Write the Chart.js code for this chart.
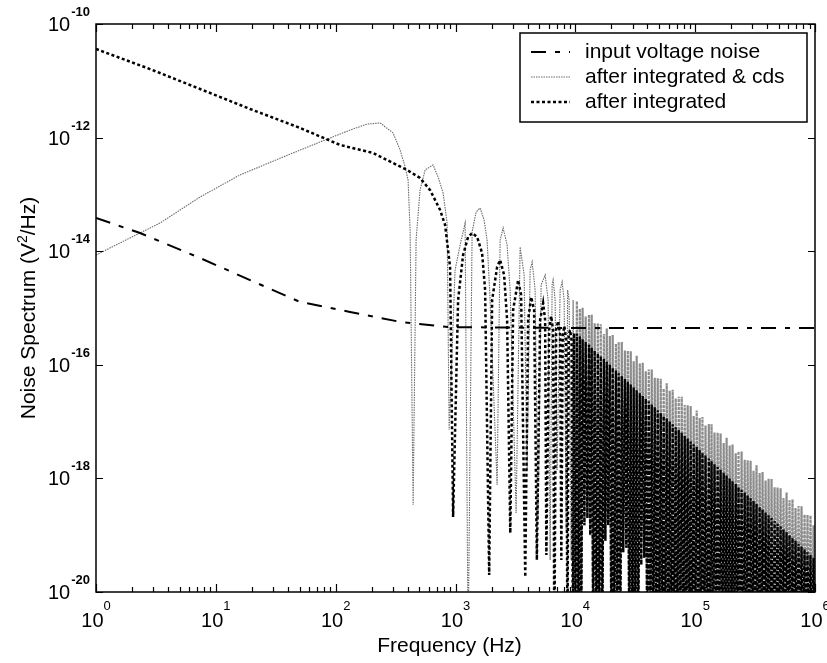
<!DOCTYPE html>
<html>
<head>
<meta charset="utf-8">
<script src="https://cdn.jsdelivr.net/npm/chart.js@4/dist/chart.umd.min.js"></script>
<style>
  body { margin: 0; background: #fff; }
  #wrap { width: 827px; height: 663px; }
</style>
</head>
<body>
<div id="wrap"><canvas id="noiseChart" width="827" height="663"></canvas></div>
<script>
// values (log-log, Hz vs V^2/Hz)
const xTickExps = [0, 1, 2, 3, 4, 5, 6];
const yTickExps = [-10, -12, -14, -16, -18, -20];
const seriesLabels = ["input voltage noise", "after integrated & cds", "after integrated"];
const Z = 1e-21; // nulls that drop below the axis

const inputFreq = [1, 2.33, 7.38, 19.3, 50.4, 132, 345, 901, 1.0e4, 1.0e6];
const inputNoise = [3.85e-14, 2.09e-14, 7.6e-15, 3.1e-15, 1.28e-15, 8.5e-16, 5.7e-16, 4.6e-16, 4.45e-16, 4.45e-16];

// after integrated & cds, below 10 kHz
const cdsFreqLow = [1, 1.92, 3.42, 7.38, 15.9, 36.4, 74.1, 132, 183, 235,
  301, 345, 380, 402, 418, 443, 469, 506, 558, 650,
  716, 788, 851, 885, 992, 1093, 1203, 1274, 1376, 1486,
  1604, 1733, 1835, 1945, 2225, 2357, 2497, 2696, 2857, 3205,
  3462, 3738, 3960, 4195, 4360, 4618, 4893, 5183, 5597, 5930,
  6161, 6402, 6526, 6782, 7048, 7467, 7760, 8064, 8380, 8626,
  8877, 9226, 9586];
const cdsLow = [8.57e-15, 1.71e-14, 3.13e-14, 8.99e-14, 2.20e-13, 4.55e-13, 8.37e-13, 1.36e-12, 1.73e-12, 1.81e-12,
  1.21e-12, 6.05e-13, 3.04e-13, 1.79e-13, 2.36e-14, 3.40e-19, 1.57e-14, 1.19e-13, 2.69e-13, 3.30e-13,
  2.02e-13, 1.06e-13, 3.13e-14, 7.11e-18, 4.67e-15, 1.29e-14, 3.13e-14, Z, 2.18e-14, 4.90e-14,
  5.76e-14, 3.54e-14, 1.57e-14, 1.38e-15, 7.66e-19, 1.57e-14, 2.56e-14, 1.29e-14, 2.07e-15, 2.46e-19,
  1.19e-14, 3.81e-15, 1.41e-18, 4.67e-15, 6.46e-15, 2.07e-15, 1.85e-19, 2.54e-15, 3.81e-15, 1.38e-15,
  3.66e-20, 2.54e-15, 3.11e-15, 1.38e-15, 1.41e-18, 2.07e-15, 2.87e-15, 1.38e-15, 1.24e-19, 2.07e-15,
  1.38e-15, 3.66e-20, 1.38e-15];

// after integrated, below 10 kHz
const integFreqLow = [1, 2.82, 7.38, 19.3, 50.4, 109, 205, 394, 506, 614,
  744, 819, 901, 955, 1051, 1157, 1274, 1376, 1515, 1667,
  1767, 1910, 2021, 2225, 2357, 2545, 2696, 2865, 3026, 3332,
  3528, 3820, 4036, 4277, 4530, 4775, 5084, 5385, 5597, 5730,
  6042, 6281, 6526, 6685, 6912, 7185, 7467, 7640, 7850, 8100,
  8380, 8595, 8800, 9050, 9300, 9550, 9770];
const integLow = [3.63e-11, 1.61e-11, 7.18e-12, 3.19e-12, 1.48e-12, 7.41e-13, 5.36e-13, 2.69e-13, 1.95e-13, 1.19e-13,
  5.31e-14, 2.89e-14, 5.27e-15, 2.09e-19, 1.38e-15, 8.57e-15, 1.78e-14, 2.09e-14, 1.78e-14, 9.28e-15,
  2.07e-15, 1.99e-20, 1.38e-15, 5.27e-15, 7.0e-15, 3.81e-15, 6.15e-16, 1.09e-19, 9.23e-16, 3.11e-15,
  1.69e-15, 1.84e-20, 6.15e-16, 1.56e-15, 9.23e-16, 3.66e-20, 6.15e-16, 1.22e-15, 6.15e-16, 4.48e-20,
  4.10e-16, 7.23e-16, 4.10e-16, Z, 4.10e-16, 5.90e-16, 3.35e-16, 3.66e-20, 3.35e-16, 4.82e-16,
  2.73e-16, Z, 3.35e-16, 4.10e-16, 2.73e-16, Z, 3.6e-16];

// dense ripple above 10 kHz: null, peak, null, peak ...
const denseFreq = [
  1.00e4, 1.03e4, 1.06e4, 1.09e4, 1.12e4, 1.15e4, 1.19e4, 1.22e4, 1.26e4, 1.30e4,
  1.33e4, 1.37e4, 1.41e4, 1.45e4, 1.50e4, 1.54e4, 1.58e4, 1.63e4, 1.68e4, 1.73e4,
  1.78e4, 1.83e4, 1.88e4, 1.94e4, 2.00e4, 2.05e4, 2.11e4, 2.18e4, 2.24e4, 2.30e4,
  2.37e4, 2.44e4, 2.51e4, 2.59e4, 2.66e4, 2.74e4, 2.82e4, 2.90e4, 2.99e4, 3.07e4,
  3.16e4, 3.25e4, 3.35e4, 3.45e4, 3.55e4, 3.65e4, 3.76e4, 3.87e4, 3.98e4, 4.10e4,
  4.22e4, 4.34e4, 4.47e4, 4.60e4, 4.73e4, 4.87e4, 5.01e4, 5.16e4, 5.31e4, 5.46e4,
  5.62e4, 5.79e4, 5.96e4, 6.13e4, 6.31e4, 6.49e4, 6.68e4, 6.88e4, 7.08e4, 7.29e4,
  7.50e4, 7.72e4, 7.94e4, 8.18e4, 8.41e4, 8.66e4, 8.91e4, 9.17e4, 9.44e4, 9.72e4,
  1.00e5, 1.03e5, 1.06e5, 1.09e5, 1.12e5, 1.15e5, 1.19e5, 1.22e5, 1.26e5, 1.30e5,
  1.33e5, 1.37e5, 1.41e5, 1.45e5, 1.50e5, 1.54e5, 1.58e5, 1.63e5, 1.68e5, 1.73e5,
  1.78e5, 1.83e5, 1.88e5, 1.94e5, 2.00e5, 2.05e5, 2.11e5, 2.18e5, 2.24e5, 2.30e5,
  2.37e5, 2.44e5, 2.51e5, 2.59e5, 2.66e5, 2.74e5, 2.82e5, 2.90e5, 2.99e5, 3.07e5,
  3.16e5, 3.25e5, 3.35e5, 3.45e5, 3.55e5, 3.65e5, 3.76e5, 3.87e5, 3.98e5, 4.10e5,
  4.22e5, 4.34e5, 4.47e5, 4.60e5, 4.73e5, 4.87e5, 5.01e5, 5.16e5, 5.31e5, 5.46e5,
  5.62e5, 5.79e5, 5.96e5, 6.13e5, 6.31e5, 6.49e5, 6.68e5, 6.88e5, 7.08e5, 7.29e5,
  7.50e5, 7.72e5, 7.94e5, 8.18e5, 8.41e5, 8.66e5, 8.91e5, 9.17e5, 9.44e5, 9.72e5,
  1.00e6];

const integDense = [
  Z, 3.56e-16, Z, 3.17e-16, Z, 2.83e-16, 1.5e-19, 2.52e-16, 2e-19, 2.25e-16,
  1e-19, 2.00e-16, Z, 1.78e-16, Z, 1.59e-16, Z, 1.42e-16, Z, 1.26e-16,
  8e-20, 1.13e-16, 1.5e-19, 1.00e-16, Z, 8.94e-17, Z, 7.97e-17, Z, 7.10e-17,
  Z, 6.33e-17, 5e-20, 5.64e-17, 6e-20, 5.03e-17, Z, 4.48e-17, Z, 3.99e-17,
  Z, 3.56e-17, Z, 3.17e-17, 3e-20, 2.83e-17, 4e-20, 2.52e-17, Z, 2.25e-17,
  Z, 2.00e-17, Z, 1.78e-17, Z, 1.59e-17, Z, 1.42e-17, Z, 1.26e-17,
  Z, 1.13e-17, Z, 1.00e-17, Z, 8.94e-18, Z, 7.97e-18, Z, 7.10e-18,
  Z, 6.33e-18, Z, 5.64e-18, Z, 5.03e-18, Z, 4.48e-18, Z, 3.99e-18,
  Z, 3.56e-18, Z, 3.17e-18, Z, 2.83e-18, Z, 2.52e-18, Z, 2.25e-18,
  Z, 2.00e-18, Z, 1.78e-18, Z, 1.59e-18, Z, 1.42e-18, Z, 1.26e-18,
  Z, 1.13e-18, Z, 1.00e-18, Z, 8.94e-19, Z, 7.97e-19, Z, 7.10e-19,
  Z, 6.33e-19, Z, 5.64e-19, Z, 5.03e-19, Z, 4.48e-19, Z, 3.99e-19,
  Z, 3.56e-19, Z, 3.17e-19, Z, 2.83e-19, Z, 2.52e-19, Z, 2.25e-19,
  Z, 2.00e-19, Z, 1.78e-19, Z, 1.59e-19, Z, 1.42e-19, Z, 1.26e-19,
  Z, 1.13e-19, Z, 1.00e-19, Z, 8.94e-20, Z, 7.97e-20, Z, 7.10e-20,
  Z, 6.33e-20, Z, 5.64e-20, Z, 5.03e-20, Z, 4.48e-20, Z, 3.99e-20,
  Z];

const cdsDense = [
  Z, 1.32e-15, Z, 9.7e-16, Z, 1.01e-15, 1.5e-19, 7.1e-16, 2e-19, 7.6e-16,
  1e-19, 7.6e-16, Z, 5.4e-16, Z, 5.4e-16, Z, 5.2e-16, Z, 3.5e-16,
  8e-20, 4.37e-16, 1.5e-19, 3.20e-16, Z, 3.33e-16, Z, 2.35e-16, Z, 2.52e-16,
  Z, 2.51e-16, 5e-20, 1.79e-16, 6e-20, 1.77e-16, Z, 1.73e-16, Z, 1.16e-16,
  Z, 1.44e-16, Z, 1.06e-16, 3e-20, 1.09e-16, 4e-20, 7.7e-17, Z, 8.3e-17,
  Z, 8.3e-17, Z, 5.9e-17, Z, 5.8e-17, Z, 5.7e-17, Z, 3.8e-17,
  Z, 4.75e-17, Z, 3.49e-17, Z, 3.62e-17, Z, 2.56e-17, Z, 2.75e-17,
  Z, 2.73e-17, Z, 1.95e-17, Z, 1.93e-17, Z, 1.88e-17, Z, 1.26e-17,
  Z, 1.57e-17, Z, 1.16e-17, Z, 1.20e-17, Z, 8.5e-18, Z, 9.1e-18,
  Z, 9.0e-18, Z, 6.4e-18, Z, 6.4e-18, Z, 6.2e-18, Z, 4.2e-18,
  Z, 5.18e-18, Z, 3.80e-18, Z, 3.94e-18, Z, 2.78e-18, Z, 2.99e-18,
  Z, 2.97e-18, Z, 2.13e-18, Z, 2.09e-18, Z, 2.04e-18, Z, 1.37e-18,
  Z, 1.70e-18, Z, 1.25e-18, Z, 1.30e-18, Z, 9.2e-19, Z, 9.9e-19,
  Z, 9.8e-19, Z, 7.0e-19, Z, 6.9e-19, Z, 6.7e-19, Z, 4.5e-19,
  Z, 5.63e-19, Z, 4.13e-19, Z, 4.28e-19, Z, 3.02e-19, Z, 3.25e-19,
  Z, 3.23e-19, Z, 2.31e-19, Z, 2.28e-19, Z, 2.23e-19, Z, 1.49e-19,
  Z];

const FONT = "'Liberation Sans', Arial, sans-serif";

function toPoints(freqs, values) {
  return freqs.map((f, i) => ({ x: f, y: values[i] }));
}

// box, inward ticks, 10^n labels, titles and legend in the MATLAB style
const matlabAxes = {
  id: "matlabAxes",
  afterDraw(chart) {
    const ctx = chart.ctx;
    const { left, right, top, bottom } = chart.chartArea;
    const xs = chart.scales.x;
    const ys = chart.scales.y;
    ctx.save();
    ctx.strokeStyle = "#000";
    ctx.fillStyle = "#000";

    ctx.lineWidth = 1.2;
    ctx.beginPath();
    for (let e = xTickExps[0]; e <= xTickExps[xTickExps.length - 1]; e++) {
      for (let m = 1; m < 10; m++) {
        if (e === xTickExps[xTickExps.length - 1] && m > 1) break;
        const px = Math.round(xs.getPixelForValue(m * Math.pow(10, e))) + 0.5;
        const len = m === 1 ? 8 : 5;
        ctx.moveTo(px, bottom); ctx.lineTo(px, bottom - len);
        ctx.moveTo(px, top); ctx.lineTo(px, top + len);
      }
    }
    yTickExps.forEach((e) => {
      const py = Math.round(ys.getPixelForValue(Math.pow(10, e))) + 0.5;
      ctx.moveTo(left, py); ctx.lineTo(left + 7, py);
      ctx.moveTo(right, py); ctx.lineTo(right - 7, py);
    });
    ctx.stroke();

    ctx.lineWidth = 1.5;
    ctx.strokeRect(left, top, right - left, bottom - top);

    // x tick labels
    ctx.textAlign = "left";
    ctx.textBaseline = "alphabetic";
    xTickExps.forEach((e) => {
      const px = xs.getPixelForValue(Math.pow(10, e));
      ctx.font = "20px " + FONT;
      const wBase = ctx.measureText("10").width;
      ctx.font = "13px " + FONT;
      const wExp = ctx.measureText(String(e)).width;
      const x0 = px - (wBase + wExp) / 2;
      ctx.font = "20px " + FONT;
      ctx.fillText("10", x0, bottom + 35);
      ctx.font = "13px " + FONT;
      ctx.fillText(String(e), x0 + wBase, bottom + 18);
    });

    // y tick labels
    ctx.textAlign = "right";
    yTickExps.forEach((e) => {
      const py = ys.getPixelForValue(Math.pow(10, e));
      ctx.font = "bold 13px " + FONT;
      const expStr = String(e);
      const wExp = ctx.measureText(expStr).width;
      ctx.fillText(expStr, left - 6, py - 8);
      ctx.font = "20px " + FONT;
      ctx.fillText("10", left - 7 - wExp, py + 7);
    });

    // axis titles
    ctx.font = "21px " + FONT;
    ctx.textAlign = "center";
    ctx.fillText("Frequency (Hz)", (left + right) / 2 - 6, bottom + 60);

    ctx.save();
    ctx.translate(35, (top + bottom) / 2);
    ctx.rotate(-Math.PI / 2);
    ctx.textAlign = "left";
    const p1 = "Noise Spectrum (V", p2 = "2", p3 = "/Hz)";
    ctx.font = "21px " + FONT;
    const w1 = ctx.measureText(p1).width, w3 = ctx.measureText(p3).width;
    ctx.font = "14px " + FONT;
    const w2 = ctx.measureText(p2).width;
    const tx = -(w1 + w2 + w3) / 2;
    ctx.font = "21px " + FONT;
    ctx.fillText(p1, tx, 0);
    ctx.font = "14px " + FONT;
    ctx.fillText(p2, tx + w1, -8);
    ctx.font = "21px " + FONT;
    ctx.fillText(p3, tx + w1 + w2, 0);
    ctx.restore();

    // legend box
    const bw = 287, bh = 89;
    const bx = right - 8 - bw, by = top + 9;
    ctx.fillStyle = "#fff";
    ctx.fillRect(bx, by, bw, bh);
    ctx.lineWidth = 1.5;
    ctx.strokeStyle = "#000";
    ctx.strokeRect(bx, by, bw, bh);
    ctx.textAlign = "left";
    ctx.textBaseline = "middle";
    ctx.font = "21px " + FONT;
    chart.data.datasets.filter((ds) => ds.inLegend).forEach((ds, i) => {
      const ly = by + 19 + i * 25;
      ctx.save();
      ctx.strokeStyle = ds.borderColor;
      ctx.lineWidth = ds.borderWidth;
      ctx.setLineDash(ds.borderDash || []);
      ctx.beginPath();
      ctx.moveTo(bx + 11, ly);
      ctx.lineTo(bx + 50, ly);
      ctx.stroke();
      ctx.restore();
      ctx.fillStyle = "#000";
      ctx.fillText(ds.label, bx + 65, ly);
    });
    ctx.restore();
  },
};

new Chart(document.getElementById("noiseChart"), {
  type: "line",
  data: {
    datasets: [
      {
        label: seriesLabels[0],
        inLegend: true,
        data: toPoints(inputFreq, inputNoise),
        borderColor: "#000",
        borderWidth: 2,
        borderDash: [15, 9, 5, 9],
        order: 0,
      },
      {
        label: seriesLabels[1],
        inLegend: true,
        data: toPoints(cdsFreqLow.concat(denseFreq.slice(0, 1)), cdsLow.concat(cdsDense.slice(0, 1))),
        borderColor: "#6a6a6a",
        borderWidth: 1.1,
        borderDash: [1.5, 1],
        order: 4,
      },
      {
        label: seriesLabels[2],
        inLegend: true,
        data: toPoints(integFreqLow.concat(denseFreq.slice(0, 1)), integLow.concat(integDense.slice(0, 1))),
        borderColor: "#000",
        borderWidth: 2.5,
        borderDash: [3, 2.5],
        order: 2,
      },
      // the same two series above 10 kHz, where the ripple packs into bands
      {
        label: seriesLabels[1],
        data: toPoints(denseFreq, cdsDense),
        borderColor: "#8c8c8c",
        borderWidth: 2.2,
        borderDash: [3, 1],
        order: 3,
      },
      {
        label: seriesLabels[2],
        data: toPoints(denseFreq, integDense),
        borderColor: "#000",
        borderWidth: 2.3,
        borderDash: [4, 1.5],
        order: 1,
      },
    ],
  },
  options: {
    responsive: false,
    animation: false,
    layout: { padding: { left: 96, top: 24, right: 12, bottom: 71 } },
    elements: { point: { radius: 0 }, line: { tension: 0, fill: false } },
    plugins: { legend: { display: false }, tooltip: { enabled: false } },
    scales: {
      x: { type: "logarithmic", min: 1, max: 1e6, display: false },
      y: { type: "logarithmic", min: 1e-20, max: 1e-10, display: false },
    },
  },
  plugins: [matlabAxes],
});
</script>
</body>
</html>
